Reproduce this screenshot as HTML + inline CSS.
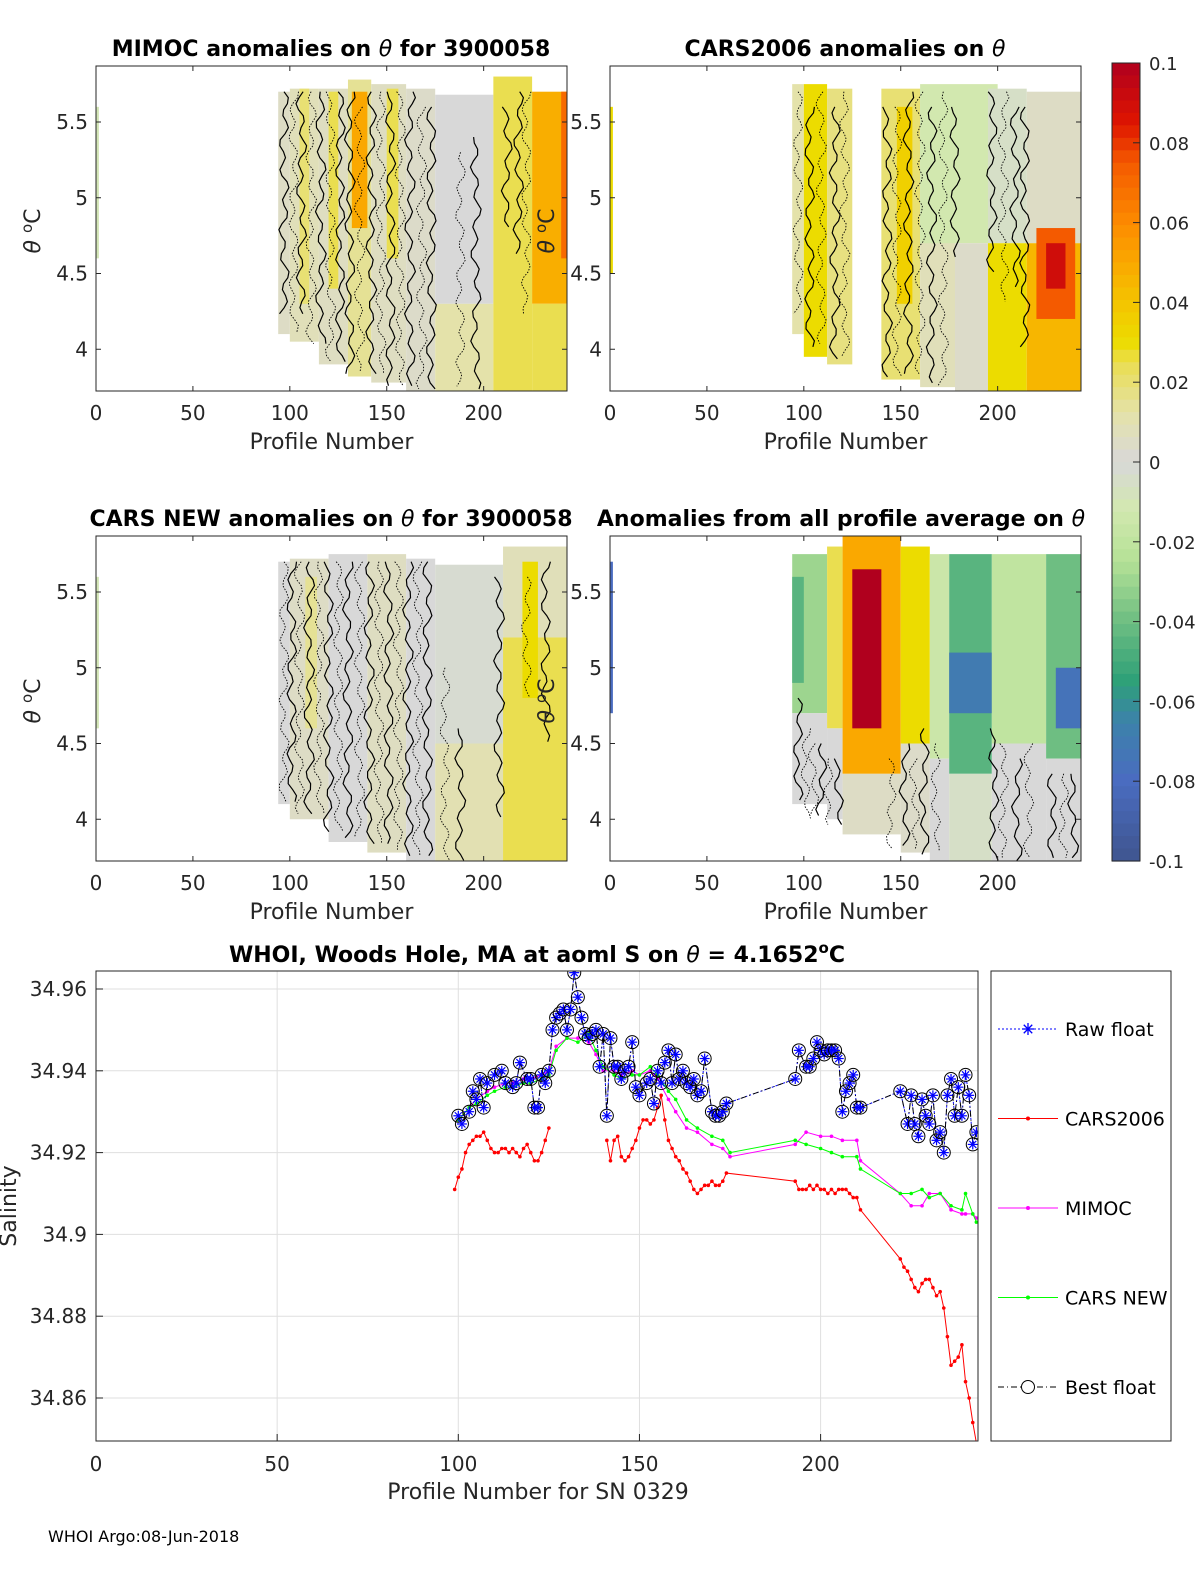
<!DOCTYPE html>
<html><head><meta charset="utf-8"><style>
body{margin:0;background:#fff}
svg{display:block;font-family:"DejaVu Sans","Liberation Sans",sans-serif}
</style></head><body>
<svg id="fig" width="1200" height="1575" viewBox="0 0 1200 1575" xmlns="http://www.w3.org/2000/svg">
<g id="layer"></g>
</svg>
<script>
// ---------- data ----------
// heatmap blocks: [profileStart, profileEnd, thetaTop, thetaBottom, anomaly]
const mimocBlocks=[[0,1.5,5.6,4.6,-0.01],[94,100,5.7,4.1,0.005],[100,115,5.72,4.05,0.008],[105,110,5.72,4.3,0.02],[115,130,5.72,3.9,0.006],[120,125,5.7,4.4,0.025],[130,142,5.78,3.82,0.015],[132,140,5.7,4.8,0.05],[142,160,5.75,3.78,0.006],[150,156,5.72,4.6,0.025],[160,175,5.72,3.72,0.004],[175,205,5.68,4.3,0.0],[175,205,4.3,3.72,0.012],[205,225,5.8,3.72,0.025],[225,243,5.7,4.3,0.048],[225,243,4.3,3.72,0.025],[240,243,5.7,4.6,0.07]];
const cars06Blocks=[[0,1.5,5.6,4.5,0.03],[94,100,5.75,4.1,0.012],[100,112,5.75,3.95,0.03],[112,125,5.72,3.9,0.018],[140,160,5.72,3.8,0.02],[148,156,5.6,4.3,0.035],[160,178,5.72,3.75,0.008],[160,200,5.75,4.7,-0.012],[178,195,4.7,3.72,0.004],[195,215,5.72,4.7,-0.005],[195,215,4.7,3.72,0.03],[215,243,5.7,4.7,0.005],[215,243,4.7,3.72,0.045],[220,240,4.8,4.2,0.075],[225,235,4.7,4.4,0.09]];
const carsNewBlocks=[[0,1.5,5.6,4.6,-0.01],[94,100,5.7,4.1,0.0],[100,120,5.72,4.0,0.005],[108,114,5.6,4.6,0.015],[120,140,5.75,3.85,0.0],[140,160,5.75,3.78,0.006],[160,175,5.72,3.72,0.0],[175,210,5.68,4.5,-0.002],[175,210,4.5,3.72,0.01],[210,243,5.8,5.2,0.008],[210,243,5.2,3.72,0.025],[220,228,5.7,4.8,0.03]];
const allAvgBlocks=[[0,1.5,5.7,4.7,-0.08],[94,112,5.75,4.7,-0.03],[94,100,5.6,4.9,-0.045],[94,112,4.7,4.1,0.0],[112,120,5.8,4.6,0.025],[112,120,4.6,4.0,0.0],[120,150,5.88,4.3,0.05],[125,140,5.65,4.6,0.1],[120,150,4.3,3.9,0.005],[150,165,5.8,4.5,0.03],[150,165,4.5,3.78,0.004],[165,175,5.75,4.4,-0.015],[165,175,4.4,3.72,0.0],[175,197,5.75,4.3,-0.045],[175,197,5.1,4.7,-0.07],[175,197,4.3,3.72,-0.005],[197,225,5.75,4.5,-0.02],[197,225,4.5,3.72,0.0],[225,243,5.75,4.4,-0.04],[230,243,5.0,4.6,-0.075],[225,243,4.4,3.72,0.0]];
// contour line positions: [profile, thetaTop, thetaBottom, dotted(1/0)]
const mimocContours=[[97,5.7,4.2,0],[102,5.7,4.1,1],[106,5.7,4.2,0],[111,5.7,4.0,1],[116,5.7,4.0,0],[121,5.7,3.9,1],[126,5.7,3.9,0],[131,5.7,3.8,0],[136,5.6,3.85,1],[142,5.7,3.8,0],[147,5.7,3.8,1],[152,5.7,3.75,0],[157,5.7,3.75,1],[162,5.7,3.72,0],[168,5.6,3.72,1],[173,5.6,3.72,0],[188,5.3,3.72,1],[196,5.4,3.72,0],[212,5.6,4.8,0],[218,5.7,4.6,0],[222,5.7,4.2,1]];
const cars06Contours=[[97,5.7,4.2,1],[103,5.6,4.0,0],[109,5.7,4.0,1],[116,5.6,3.9,0],[121,5.7,3.95,1],[143,5.6,3.8,0],[148,5.6,3.8,1],[154,5.7,3.8,0],[160,5.7,3.8,1],[166,5.6,3.75,0],[172,5.7,3.75,1],[178,5.6,4.6,0],[197,5.7,4.5,0],[203,5.7,4.3,1],[209,5.6,4.4,0],[214,5.6,4.0,0]];
const carsNewContours=[[97,5.7,4.1,1],[101,5.7,4.1,0],[105,5.7,4.0,1],[110,5.7,4.0,0],[115,5.7,4.0,1],[120,5.7,3.9,0],[125,5.7,3.9,1],[130,5.7,3.85,0],[136,5.7,3.85,1],[141,5.7,3.8,0],[146,5.7,3.8,1],[151,5.7,3.8,0],[156,5.7,3.78,1],[161,5.7,3.75,0],[166,5.7,3.72,1],[171,5.7,3.72,0],[180,5.0,3.72,1],[188,4.6,3.72,0],[208,5.6,4.0,0],[222,5.6,4.8,1],[232,5.7,4.5,0]];
const allAvgContours=[[97,4.8,4.1,0],[101,4.6,4.0,1],[105,4.5,4.0,1],[109,4.5,4.0,0],[113,4.4,3.95,1],[118,4.4,3.95,0],[145,4.4,3.8,1],[152,4.5,3.8,0],[157,4.4,3.78,1],[162,4.6,3.75,0],[168,4.5,3.75,1],[198,4.6,3.72,0],[203,4.5,3.72,1],[210,4.4,3.72,0],[216,4.5,3.72,1],[228,4.3,3.72,0],[234,4.3,3.72,1],[239,4.3,3.72,0]];
// colorbar
const cbTicks=[0.1,0.08,0.06,0.04,0.02,0,-0.02,-0.04,-0.06,-0.08,-0.1];
const cbLabels=["0.1","0.08","0.06","0.04","0.02","0","-0.02","-0.04","-0.06","-0.08","-0.1"];
// bottom chart
const rawP=[100,101,103,104,105,106,107,108,110,112,113,115,116,117,119,120,121,122,123,124,125,126,127,128,129,130,131,132,133,134,135,136,137,138,139,140,141,142,143,144,145,146,147,148,149,150,152,153,154,155,156,157,158,159,160,161,162,163,164,165,166,167,168,170,171,172,173,174,193,194,196,197,198,199,200,201,202,203,204,205,206,207,208,209,210,211,222,224,225,226,227,228,229,230,231,232,233,234,235,236,237,238,239,240,241,242,243];
const rawS=[34.929,34.927,34.930,34.935,34.933,34.938,34.931,34.937,34.939,34.940,34.937,34.936,34.937,34.942,34.938,34.938,34.931,34.931,34.939,34.937,34.940,34.950,34.953,34.954,34.955,34.950,34.955,34.964,34.958,34.953,34.949,34.948,34.949,34.950,34.941,34.949,34.929,34.948,34.941,34.941,34.938,34.940,34.941,34.947,34.936,34.934,34.937,34.938,34.932,34.940,34.937,34.942,34.945,34.937,34.944,34.938,34.940,34.937,34.936,34.938,34.934,34.935,34.943,34.930,34.929,34.929,34.930,34.932,34.938,34.945,34.941,34.941,34.943,34.947,34.945,34.944,34.945,34.945,34.945,34.943,34.930,34.935,34.937,34.939,34.931,34.931,34.935,34.927,34.934,34.927,34.924,34.933,34.929,34.927,34.934,34.923,34.925,34.920,34.934,34.938,34.929,34.936,34.929,34.939,34.934,34.922,34.925];
const carsP=[99,100,101,102,103,104,105,106,107,108,109,110,111,112,113,114,115,116,117,118,119,120,121,122,123,124,125,null,141,142,143,144,145,146,147,148,149,150,151,152,153,154,155,156,157,158,159,160,161,162,163,164,165,166,167,168,169,170,171,172,173,174,193,194,195,196,197,198,199,200,201,202,203,204,205,206,207,208,209,210,211,222,223,224,225,226,227,228,229,230,231,232,233,234,235,236,237,238,239,240,241,242,243];
const carsS=[34.911,34.914,34.916,34.920,34.922,34.923,34.924,34.924,34.925,34.923,34.921,34.920,34.920,34.921,34.921,34.920,34.921,34.920,34.919,34.921,34.922,34.920,34.918,34.918,34.920,34.923,34.926,null,34.923,34.918,34.923,34.924,34.919,34.918,34.919,34.921,34.923,34.926,34.928,34.928,34.927,34.928,34.931,34.934,34.928,34.923,34.921,34.919,34.918,34.916,34.915,34.913,34.911,34.910,34.911,34.912,34.912,34.913,34.912,34.912,34.913,34.915,34.913,34.911,34.911,34.911,34.912,34.911,34.912,34.911,34.911,34.910,34.911,34.910,34.911,34.911,34.911,34.910,34.909,34.909,34.906,34.894,34.892,34.891,34.889,34.887,34.886,34.888,34.889,34.889,34.887,34.885,34.886,34.882,34.875,34.868,34.869,34.870,34.873,34.864,34.860,34.854,34.849];
const newP=[100,103,105,108,110,113,115,118,120,123,125,127,130,133,136,138,140,143,145,148,150,153,155,158,160,163,166,170,173,175,193,196,200,203,206,210,211,222,225,228,230,233,236,239,240,242,243];
const newS=[34.928,34.931,34.932,34.934,34.935,34.936,34.936,34.937,34.937,34.938,34.939,34.945,34.948,34.947,34.949,34.945,34.941,34.939,34.938,34.939,34.939,34.941,34.939,34.935,34.933,34.928,34.926,34.924,34.923,34.920,34.923,34.922,34.921,34.920,34.919,34.919,34.916,34.910,34.910,34.911,34.909,34.910,34.907,34.906,34.910,34.905,34.903];
const mimP=[100,103,105,108,110,113,115,118,120,123,125,127,130,133,136,138,140,143,145,148,150,153,155,158,160,163,166,170,173,175,193,196,200,203,206,210,211,222,225,228,230,233,236,239,240,242,243];
const mimS=[34.928,34.931,34.933,34.935,34.936,34.937,34.937,34.938,34.938,34.939,34.940,34.946,34.948,34.948,34.947,34.944,34.940,34.940,34.939,34.940,34.939,34.940,34.938,34.933,34.930,34.926,34.925,34.922,34.921,34.919,34.922,34.925,34.924,34.924,34.923,34.923,34.918,34.910,34.907,34.907,34.910,34.910,34.906,34.905,34.905,34.905,34.904];
const bxTicks=[0,50,100,150,200];
const byTicks=[34.86,34.88,34.9,34.92,34.94,34.96];
const byLabels=["34.86","34.88","34.9","34.92","34.94","34.96"];
const hxTicks=[0,50,100,150,200];
const hyTicks=[4,4.5,5,5.5];
const hyLabels=["4","4.5","5","5.5"];

// ---------- helpers ----------
const NS="http://www.w3.org/2000/svg";
const root=document.getElementById('layer');
function el(tag,attrs,parent,text){const e=document.createElementNS(NS,tag);for(const k in attrs)e.setAttribute(k,attrs[k]);if(text!==undefined)e.textContent=text;(parent||root).appendChild(e);return e;}
const stops=[[-0.1,[63,85,143]],[-0.08,[74,108,192]],[-0.065,[60,130,170]],[-0.055,[46,160,120]],[-0.04,[110,190,130]],[-0.025,[180,225,150]],[-0.012,[210,232,175]],[0,[216,216,216]],[0.012,[228,226,170]],[0.025,[234,222,80]],[0.03,[236,220,0]],[0.04,[244,196,0]],[0.05,[250,168,0]],[0.06,[252,138,0]],[0.075,[244,90,0]],[0.085,[222,20,0]],[0.1,[176,0,30]]];
function cmap(v){v=Math.max(-0.1,Math.min(0.1,v));for(let i=0;i<stops.length-1;i++){const a=stops[i],b=stops[i+1];if(v<=b[0]){const t=(v-a[0])/(b[0]-a[0]);const c=a[1].map((x,j)=>Math.round(x+(b[1][j]-x)*t));return `rgb(${c[0]},${c[1]},${c[2]})`;}}return 'rgb(176,0,30)';}

// ---------- heatmap panels ----------
function panel(x0,y0,title,tx,blocks,contours,name){
  const W=471,H=325;
  const g=el('g',{},root);
  
  
  const sx=p=>x0+p*(W/243);
  const y55=y0+56;
  const sy=t=>y55+(5.5-t)*151.5;
  const cid='clip'+name;
  const cp=el('clipPath',{id:cid},g);el('rect',{x:x0,y:y0,width:W,height:H},cp);
  const hg=el('g',{'clip-path':`url(#${cid})`},g);
  blocks.forEach(b=>{const r=el('rect',{x:sx(b[0]),y:sy(b[2]),width:sx(b[1])-sx(b[0]),height:sy(b[3])-sy(b[2]),fill:cmap(b[4])},hg);
    
    });
  contours.forEach((c,ci)=>{const xa=sx(c[0]);const ya=sy(c[1]),yb=sy(c[2]);let d='';
    for(let y=ya,k=0;y<=yb;y+=6,k++){const xx=xa+3.5*Math.sin(k*1.3+ci)+2*Math.sin(k*0.45+ci*2);d+=(k?'L':'M')+xx.toFixed(1)+','+y.toFixed(1);}
    const p=el('path',{d:d,fill:'none',stroke:'#000','stroke-width':c[3]?0.9:1.2,'stroke-dasharray':c[3]?'1.5,1.5':'none'},hg);
    });
  el('rect',{x:x0,y:y0,width:W,height:H,fill:'none',stroke:'#262626','stroke-width':1},g);
  hxTicks.forEach(t=>{el('line',{x1:sx(t),x2:sx(t),y1:y0+H,y2:y0+H-5,stroke:'#262626'},g);el('line',{x1:sx(t),x2:sx(t),y1:y0,y2:y0+5,stroke:'#262626'},g);
    const l=el('text',{x:sx(t),y:y0+H+29,'text-anchor':'middle','font-size':20,fill:'#262626'},g,String(t));
    });
  hyTicks.forEach((t,i)=>{el('line',{x1:x0,x2:x0+5,y1:sy(t),y2:sy(t),stroke:'#262626'},g);el('line',{x1:x0+W,x2:x0+W-5,y1:sy(t),y2:sy(t),stroke:'#262626'},g);
    const l=el('text',{x:x0-8,y:sy(t)+7,'text-anchor':'end','font-size':20,fill:'#262626'},g,hyLabels[i]);
    });
  const xl=el('text',{x:x0+W/2,y:y0+H+58,'text-anchor':'middle','font-size':22,fill:'#262626'},g,'Profile Number');
  
  const ttl=el('text',{x:tx,y:y0-10,'text-anchor':'middle','font-size':22,'font-weight':'bold',fill:'#000'},g);
  ttl.innerHTML=title;
  
  const yl=el('text',{transform:`translate(${x0-56},${y0+165}) rotate(-90)`,'text-anchor':'middle','font-size':22,fill:'#262626'},g);
  yl.innerHTML='<tspan font-style="italic">θ</tspan> <tspan dy="-8" font-size="15">o</tspan><tspan dy="8">C</tspan>';
  
}
panel(96,66,'MIMOC anomalies on <tspan font-style="italic" font-weight="normal">θ</tspan>  for 3900058',331,mimocBlocks,mimocContours,'mimoc-panel');
panel(610,66,'CARS2006 anomalies on <tspan font-style="italic" font-weight="normal">θ</tspan>',845,cars06Blocks,cars06Contours,'cars2006-panel');
panel(96,536,'CARS NEW anomalies on <tspan font-style="italic" font-weight="normal">θ</tspan> for 3900058',331,carsNewBlocks,carsNewContours,'cars-new-panel');
panel(610,536,'Anomalies from all profile average on <tspan font-style="italic" font-weight="normal">θ</tspan>',841,allAvgBlocks,allAvgContours,'all-average-panel');

// ---------- colorbar ----------
(function(){
  const x=1112,y0=63,y1=861,w=28;
  const g=el('g',{},root);
  
  const n=64;const sy=v=>y0+(0.1-v)/0.2*(y1-y0);
  for(let i=0;i<n;i++){const v=0.1-(i+0.5)*0.2/n;el('rect',{x:x,y:y0+i*(y1-y0)/n,width:w,height:(y1-y0)/n+0.6,fill:cmap(v)},g);}
  el('rect',{x:x,y:y0,width:w,height:y1-y0,fill:'none',stroke:'#262626'},g);
  cbTicks.forEach((t,i)=>{el('line',{x1:x+w-7,x2:x+w,y1:sy(t),y2:sy(t),stroke:'#262626'},g);
    const l=el('text',{x:x+37,y:sy(t)+7,'font-size':18,fill:'#262626'},g,cbLabels[i]);
    });
})();

// ---------- bottom chart ----------
(function(){
  const x0=96,y0=971,W=882,H=470;
  const X=p=>x0+p*3.623;
  const Y=s=>989+(34.96-s)*4090;
  const g=el('g',{},root);
  
  el('rect',{x:x0,y:y0,width:W,height:H,fill:'#fff'},g);
  bxTicks.forEach(t=>{el('line',{x1:X(t),x2:X(t),y1:y0,y2:y0+H,stroke:'#dfdfdf'},g);});
  byTicks.forEach(t=>{el('line',{x1:x0,x2:x0+W,y1:Y(t),y2:Y(t),stroke:'#dfdfdf'},g);});
  const cp=el('clipPath',{id:'bclip'},g);el('rect',{x:x0,y:y0,width:W,height:H},cp);
  const pg=el('g',{'clip-path':'url(#bclip)'},g);
  function line(P,S,color,dash,name,w){let d='';let pen=false;P.forEach((p,i)=>{if(p===null||S[i]===null){pen=false;return;}d+=(pen?'L':'M')+X(p).toFixed(1)+','+Y(S[i]).toFixed(1);pen=true;});
    const l=el('path',{d:d,fill:'none',stroke:color,'stroke-width':w||1,'stroke-dasharray':dash||'none'},pg);
    }
  function dots(P,S,color,name){P.forEach((p,i)=>{if(p===null)return;const c=el('circle',{cx:X(p),cy:Y(S[i]),r:1.8,fill:color},pg);
    });}
  line(carsP,carsS,'#ff0000','','cars2006-line');dots(carsP,carsS,'#ff0000','cars2006-point');
  line(mimP,mimS,'#ff00ff','','mimoc-line');dots(mimP,mimS,'#ff00ff','mimoc-point');
  line(newP,newS,'#00ff00','','cars-new-line');dots(newP,newS,'#00ff00','cars-new-point');
  line(rawP,rawS,'#0000ff','2,2','raw-float-line');
  line(rawP,rawS,'#000','6,3,1,3','best-float-line');
  rawP.forEach((p,i)=>{const cx=X(p),cy=Y(rawS[i]);
    const m=el('g',{},pg);
    
    el('circle',{cx:cx,cy:cy,r:6.5,fill:'none',stroke:'#000','stroke-width':1},m);
    for(let a=0;a<4;a++){const ang=a*Math.PI/4;el('line',{x1:cx-5*Math.cos(ang),y1:cy-5*Math.sin(ang),x2:cx+5*Math.cos(ang),y2:cy+5*Math.sin(ang),stroke:'#0000ff','stroke-width':1.2},m);}
  });
  el('rect',{x:x0,y:y0,width:W,height:H,fill:'none',stroke:'#262626'},g);
  bxTicks.forEach(t=>{el('line',{x1:X(t),x2:X(t),y1:y0+H,y2:y0+H-7,stroke:'#262626'},g);
    const l=el('text',{x:X(t),y:y0+H+30,'text-anchor':'middle','font-size':20,fill:'#262626'},g,String(t));
    });
  byTicks.forEach((t,i)=>{el('line',{x1:x0,x2:x0+7,y1:Y(t),y2:Y(t),stroke:'#262626'},g);
    const l=el('text',{x:x0-9,y:Y(t)+7,'text-anchor':'end','font-size':20,fill:'#262626'},g,byLabels[i]);
    });
  const xl=el('text',{x:538,y:1499,'text-anchor':'middle','font-size':22,fill:'#262626'},g,'Profile Number for SN 0329');
  
  const yl=el('text',{transform:'translate(16,1206) rotate(-90)','text-anchor':'middle','font-size':22,fill:'#262626'},g,'Salinity');
  
  const tt=el('text',{x:537,y:962,'text-anchor':'middle','font-size':22,'font-weight':'bold',fill:'#000'},g);
  tt.innerHTML='WHOI, Woods Hole, MA at aoml S on <tspan font-style="italic" font-weight="normal">θ</tspan> = 4.1652<tspan dy="-9" font-size="15">o</tspan><tspan dy="9">C</tspan>';
  
  // legend
  const lg=el('g',{},root);
  
  el('rect',{x:991,y:971,width:180,height:470,fill:'#fff',stroke:'#262626'},lg);
  const entries=[['Raw float','#0000ff','2,2','star'],['CARS2006','#ff0000','','dot'],['MIMOC','#ff00ff','','dot'],['CARS NEW','#00ff00','','dot'],['Best float','#000','6,3,1,3','circle']];
  entries.forEach((e,i)=>{const y=1029+i*89.5;const eg=el('g',{},lg);
    
    el('line',{x1:998,x2:1058,y1:y,y2:y,stroke:e[1],'stroke-dasharray':e[2]||'none'},eg);
    const cx=1028;
    if(e[3]==='dot')el('circle',{cx:cx,cy:y,r:2,fill:e[1]},eg);
    if(e[3]==='star')for(let a=0;a<4;a++){const ang=a*Math.PI/4;el('line',{x1:cx-6*Math.cos(ang),y1:y-6*Math.sin(ang),x2:cx+6*Math.cos(ang),y2:y+6*Math.sin(ang),stroke:'#0000ff','stroke-width':1.3},eg);}
    if(e[3]==='circle')el('circle',{cx:cx,cy:y,r:6.5,fill:'#fff',stroke:'#000'},eg);
    el('text',{x:1065,y:y+7,'font-size':19,fill:'#000'},eg,e[0]);});
})();
const foot=el('text',{x:48,y:1542,'font-size':16,fill:'#000'},root,'WHOI Argo:08-Jun-2018');


</script>
</body></html>
